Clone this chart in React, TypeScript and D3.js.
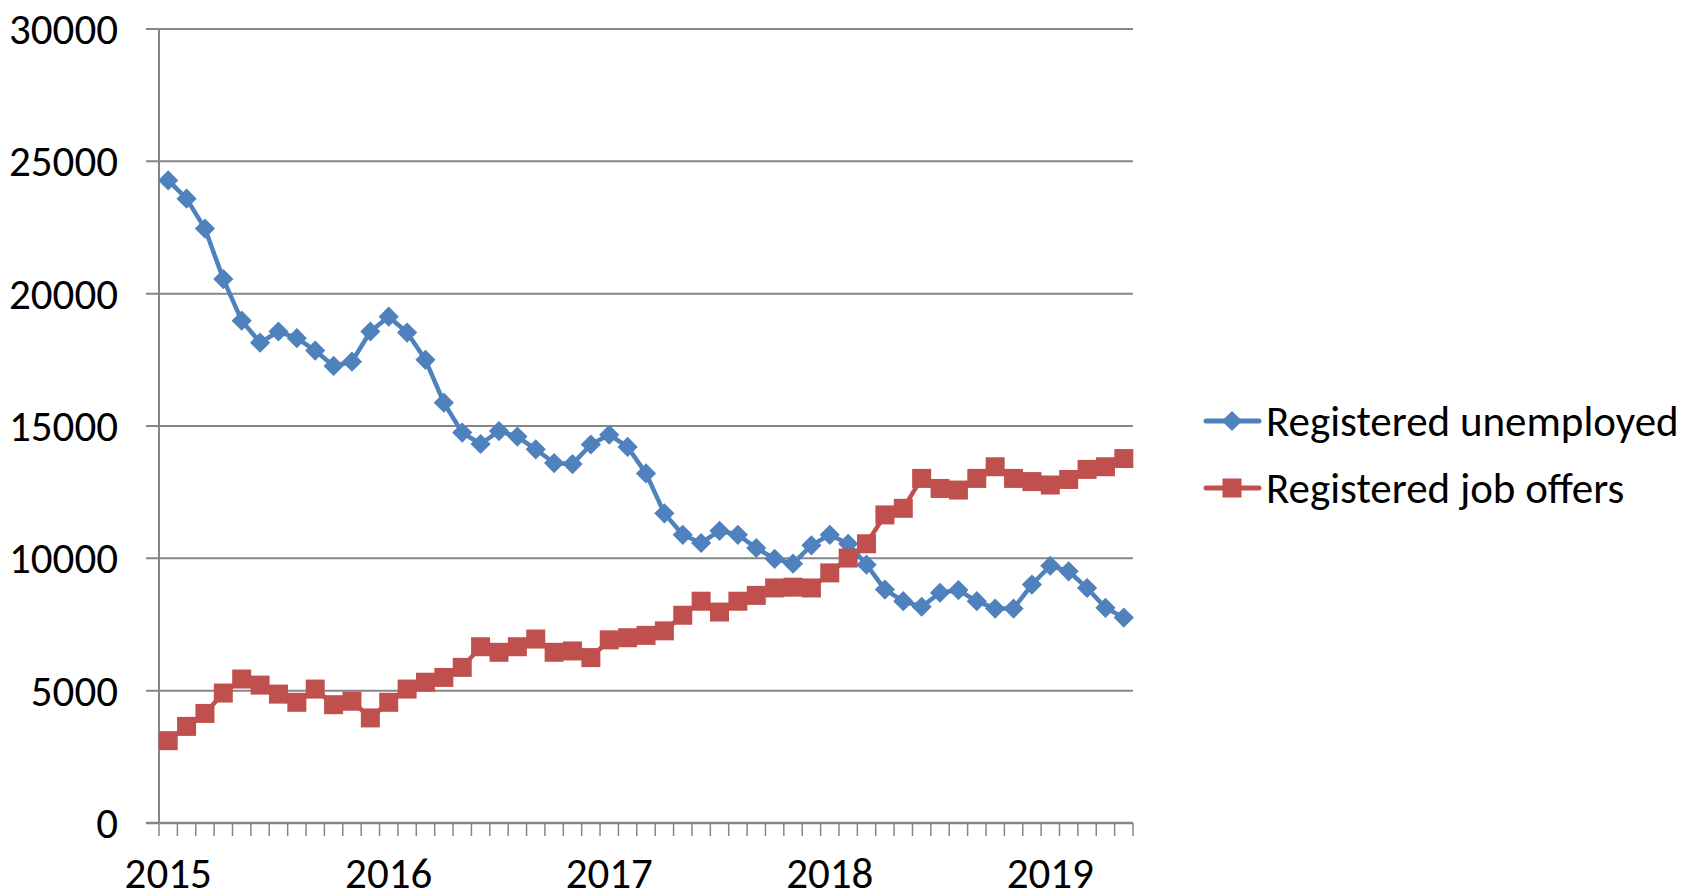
import React from 'react'
import * as d3 from 'd3'

// monthly values, Jan 2015 .. May 2019
const years = ['2015', '2016', '2017', '2018', '2019']
const months = d3.range(53).map(i => `${2015 + Math.floor(i / 12)}-${String((i % 12) + 1).padStart(2, '0')}`)

const unemployed = [
  24280, 23590, 22460, 20550, 18980, 18150, 18570, 18320, 17850, 17270, 17430, 18570,
  19130, 18530, 17500, 15880, 14750, 14320, 14810, 14600, 14120, 13600, 13560, 14300,
  14670, 14210, 13210, 11700, 10890, 10580, 11040, 10890, 10390, 9980, 9800, 10490,
  10890, 10550, 9760, 8820, 8380, 8170, 8700, 8800, 8380, 8100, 8100, 9010,
  9720, 9510, 8880, 8130, 7760,
]
const jobOffers = [
  3110, 3650, 4140, 4910, 5440, 5210, 4870, 4560, 5060, 4470, 4600, 3970,
  4560, 5060, 5320, 5500, 5880, 6660, 6450, 6660, 6950, 6450, 6500, 6250,
  6920, 7000, 7090, 7260, 7850, 8380, 7970, 8380, 8600, 8880, 8910, 8880,
  9450, 10010, 10550, 11640, 11890, 13020, 12640, 12580, 13020, 13460, 13020, 12900,
  12770, 12980, 13360, 13460, 13770,
]
const yTicks = [0, 5000, 10000, 15000, 20000, 25000, 30000]
const seriesNames = ['Registered unemployed', 'Registered job offers']

const W = 1681, H = 896
const plot = { left: 159, right: 1133, top: 29, bottom: 823 }
const font = 'Carlito, Calibri, "Open Sans", sans-serif'
const fs = 43
const blue = '#4F81BD', red = '#C0504D', grid = '#868686'

export default function App() {
  const x = d3.scaleBand().domain(months).range([plot.left, plot.right]).padding(0)
  const y = d3.scaleLinear().domain([0, 30000]).range([plot.bottom, plot.top])
  const cx = (i: number) => x(months[i])! + x.bandwidth() / 2
  const line = d3.line<number>().x((_, i) => cx(i)).y(d => y(d))
  const diamond = d3.symbol().type(d3.symbolDiamond2).size(260)()
  const edges = months.map(m => x(m)!).concat([plot.right])

  return (
    <svg width={W} height={H} style={{ position: 'absolute', left: 0, top: 0, background: '#fff' }}
      fontFamily={font}>
      {yTicks.map(t => (
        <g key={t}>
          <line x1={146} x2={t === 0 ? plot.left : plot.right} y1={y(t)} y2={y(t)} stroke={grid} strokeWidth={2} />
          <text x={118} y={y(t)} dy="0.35em" textAnchor="end" fontSize={fs} fill="#000">{t}</text>
        </g>
      ))}
      <line x1={plot.left} x2={plot.left} y1={plot.top} y2={plot.bottom} stroke={grid} strokeWidth={2} />
      <line x1={146} x2={plot.right} y1={plot.bottom} y2={plot.bottom} stroke={grid} strokeWidth={2.5} />
      {edges.map((e, i) => (
        <line key={i} x1={e} x2={e} y1={plot.bottom} y2={plot.bottom + 13} stroke={grid} strokeWidth={1.5} />
      ))}
      {years.map(yr => {
        const i = months.indexOf(`${yr}-01`)
        return <text key={yr} x={cx(i)} y={888} textAnchor="middle" fontSize={fs} fill="#000">{yr}</text>
      })}

      <path d={line(unemployed)!} fill="none" stroke={blue} strokeWidth={4.5} strokeLinejoin="round" />
      {unemployed.map((v, i) => (
        <path key={i} d={diamond!} transform={`translate(${cx(i)},${y(v)})`} fill={blue} />
      ))}
      <path d={line(jobOffers)!} fill="none" stroke={red} strokeWidth={4.5} strokeLinejoin="round" />
      {jobOffers.map((v, i) => (
        <rect key={i} x={cx(i) - 9.5} y={y(v) - 9.5} width={19} height={19} fill={red} />
      ))}

      {seriesNames.map((name, k) => {
        const ly = k === 0 ? 421 : 488
        return (
          <g key={name}>
            <line x1={1206} x2={1259} y1={ly} y2={ly} stroke={k === 0 ? blue : red} strokeWidth={5} strokeLinecap="round" />
            {k === 0
              ? <path d={diamond!} transform={`translate(${1232},${ly})`} fill={blue} />
              : <rect x={1232 - 9.5} y={ly - 9.5} width={19} height={19} fill={red} />}
            <text x={1266} y={ly} dy="0.35em" fontSize={fs} fill="#000">{name}</text>
          </g>
        )
      })}
    </svg>
  )
}
